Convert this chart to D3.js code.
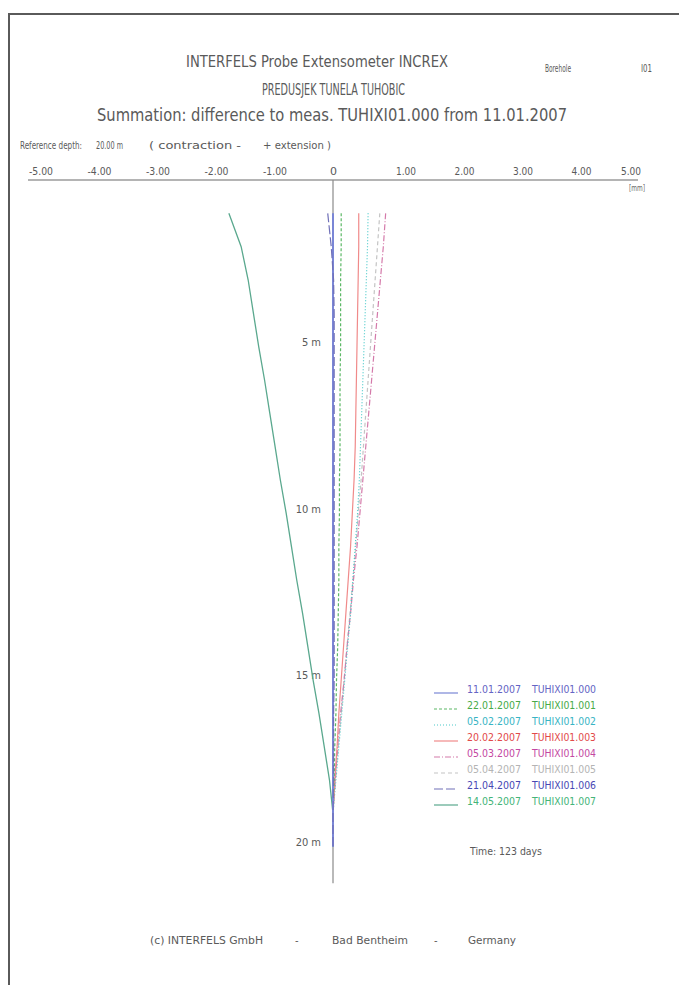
<!DOCTYPE html>
<html><head><meta charset="utf-8">
<script src="https://cdn.jsdelivr.net/npm/d3@7"></script>
<style>
html,body{margin:0;padding:0;background:#fff;}
svg{display:block;}
text{font-family:"DejaVu Sans Condensed","DejaVu Sans",sans-serif;fill:#5a5a5a;}
</style></head><body>
<script>
// ---- data ----
const depths = [1,2,3,4,5,6,7,8,9,10,11,12,13,14,15,16,17,18,19,20];
const dates = ["11.01.2007","22.01.2007","05.02.2007","20.02.2007","05.03.2007","05.04.2007","21.04.2007","14.05.2007"];
const files = ["TUHIXI01.000","TUHIXI01.001","TUHIXI01.002","TUHIXI01.003","TUHIXI01.004","TUHIXI01.005","TUHIXI01.006","TUHIXI01.007"];
const s000 = [0,0,0,0,0,0,0,0,0,0,0,0,0,0,0,0,0,0,0,0];
const s001 = [0.14,0.14,0.13,0.13,0.13,0.12,0.12,0.12,0.11,0.11,0.10,0.10,0.09,0.08,0.06,0.05,0.03,0.02,0,0];
const s002 = [0.60,0.59,0.57,0.55,0.53,0.51,0.49,0.47,0.45,0.42,0.38,0.34,0.30,0.25,0.20,0.15,0.10,0.05,0,0];
const s003 = [0.44,0.44,0.43,0.42,0.41,0.40,0.39,0.38,0.36,0.33,0.30,0.26,0.22,0.18,0.14,0.10,0.07,0.03,0,0];
const s004 = [0.90,0.86,0.81,0.76,0.71,0.66,0.61,0.56,0.51,0.46,0.41,0.35,0.30,0.24,0.19,0.13,0.08,0.04,0,0];
const s005 = [0.80,0.76,0.72,0.68,0.64,0.60,0.56,0.52,0.48,0.43,0.39,0.34,0.29,0.24,0.19,0.14,0.09,0.04,0,0];
const s006 = [-0.09,-0.03,0.01,0.02,0.02,0.02,0.02,0.02,0.02,0.02,0.02,0.02,0.02,0.02,0.02,0.01,0.01,0.01,0,0];
const s007 = [-1.78,-1.57,-1.45,-1.36,-1.27,-1.17,-1.08,-0.99,-0.90,-0.80,-0.71,-0.62,-0.52,-0.43,-0.34,-0.24,-0.15,-0.06,0,0];
const seriesValues = [s000,s001,s002,s003,s004,s005,s006,s007];
const xTicks = [-5,-4,-3,-2,-1,0,1,2,3,4,5];
const xTickLabels = ["-5.00","-4.00","-3.00","-2.00","-1.00","0","1.00","2.00","3.00","4.00","5.00"];
const yTicks = [5,10,15,20];
const yTickLabels = ["5 m","10 m","15 m","20 m"];

// ---- styles ----
const lineColors = ["#7a86d6","#5cb866","#4ccaca","#f08a8a","#d47aaa","#c4c4c4","#7070b8","#5aa88e"];
const textColors = ["#6464c4","#48aa48","#38b4c4","#e24a4a","#c448a2","#b4b4b4","#4848b4","#44b478"];
const dashes = [null,"3,2","1,2",null,"6,2,1,2","4,3","9,3",null];
const widths = [2,1.2,1.2,1.2,1.2,1.2,1.2,1.3];

const W = 679, H = 985;
const svg = d3.select("body").append("svg").attr("width",W).attr("height",H);

// frame
svg.append("path").attr("d","M9,985 L9,14 L679,14").attr("fill","none").attr("stroke","#5a5a5a").attr("stroke-width",2);

const x = d3.scaleLinear().domain([-5,5]).range([40.5,625.5]);
const y = d3.scaleLinear().domain([0,20]).range([180,846.7]);

function txt(t, px, py, size, opts={}) {
  const e = svg.append("text").attr("x",px).attr("y",py).attr("font-size",size).text(t);
  if (opts.anchor) e.attr("text-anchor",opts.anchor);
  if (opts.len) e.attr("textLength",opts.len).attr("lengthAdjust","spacingAndGlyphs");
  if (opts.fill) e.style("fill",opts.fill);
  return e;
}
// titles
txt("INTERFELS  Probe Extensometer  INCREX",186,67,16,{len:262});
txt("Borehole",545,72,10,{len:26});
txt("I01",641,72,10,{len:11});
txt("PREDUSJEK TUNELA TUHOBIC",262,95,15,{len:143});
txt("Summation: difference to meas. TUHIXI01.000 from 11.01.2007",97,121,17,{len:470});
txt("Reference depth:",20,149,10,{len:62});
txt("20.00 m",96,149,10,{len:27});
txt("( contraction  -",149,149,10,{len:92});
txt("+  extension )",263,149,10,{len:68});

// x axis
const xAxis = d3.axisTop(x).tickValues(xTicks).tickSize(0).tickPadding(5)
  .tickFormat((d,i)=>xTickLabels[i]);
const gx = svg.append("g").attr("transform","translate(0,180)").call(xAxis);
gx.select(".domain").remove();
gx.selectAll("text").attr("font-size",11).style("fill","#5a5a5a")
  .attr("font-family","DejaVu Sans Condensed, DejaVu Sans, sans-serif")
  .attr("textLength",d=>d===0?7:(d<0?24:20)).attr("lengthAdjust","spacingAndGlyphs")
  .attr("dx",d=>d>0 ? (d===5?5:14) : 0);
svg.append("line").attr("x1",28).attr("x2",638).attr("y1",180).attr("y2",180).attr("stroke","#6a6a6a").attr("stroke-width",1.2);
txt("[mm]",629,191,8,{len:16,fill:"#6a6a6a"});

// vertical axis
svg.append("line").attr("x1",x(0)).attr("x2",x(0)).attr("y1",180).attr("y2",y(21.1)).attr("stroke","#8a8a8a").attr("stroke-width",1.2);
const yAxis = d3.axisLeft(y).tickValues(yTicks).tickSize(0).tickPadding(12)
  .tickFormat((d,i)=>yTickLabels[i]);
const gy = svg.append("g").attr("transform",`translate(${x(0)},0)`).call(yAxis);
gy.select(".domain").remove();
gy.selectAll("text").attr("font-size",11).attr("dy","-0.1em").style("fill","#5a5a5a")
  .attr("font-family","DejaVu Sans Condensed, DejaVu Sans, sans-serif");

// series lines
const line = d3.line().x(d=>x(d[1])).y(d=>y(d[0]));
const drawOrder = [5,4,2,3,1,7,0,6];
drawOrder.forEach(i=>{
  const pts = depths.map((d,k)=>[d,seriesValues[i][k]]);
  const p = svg.append("path").datum(pts).attr("d",line).attr("fill","none")
    .attr("stroke",lineColors[i]).attr("stroke-width",widths[i]);
  if (dashes[i]) p.attr("stroke-dasharray",dashes[i]);
});

// legend
const legY = d3.scaleLinear().domain([0,7]).range([693,805]);
dates.forEach((dt,i)=>{
  const yy = legY(i);
  const l = svg.append("line").attr("x1",434).attr("x2",458).attr("y1",yy).attr("y2",yy)
    .attr("stroke",lineColors[i]).attr("stroke-width",1.2);
  if (dashes[i]) l.attr("stroke-dasharray",dashes[i]);
  txt(dt,467,yy,11,{len:54,fill:textColors[i]});
  txt(files[i],532,yy,11,{len:64,fill:textColors[i]});
});
txt("Time: 123 days",470,855,11,{len:72});

// footer
txt("(c) INTERFELS GmbH",150,944,11,{len:113});
txt("-",295,944,11);
txt("Bad Bentheim",332,944,11,{len:76});
txt("-",434,944,11);
txt("Germany",468,944,11,{len:48});
</script>
</body></html>
